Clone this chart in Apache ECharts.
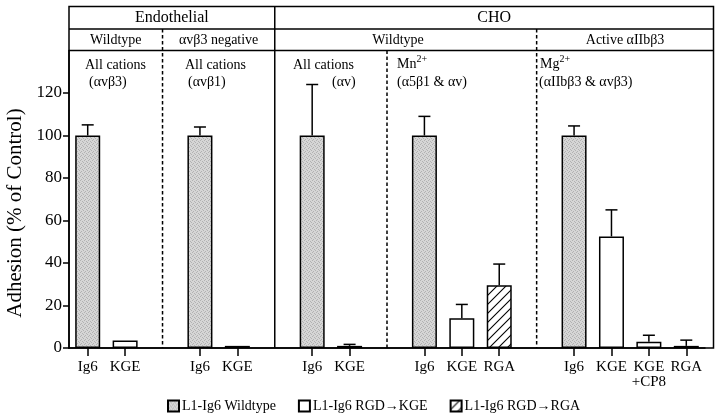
<!DOCTYPE html>
<html><head><meta charset="utf-8">
<script src="https://cdn.jsdelivr.net/npm/echarts@6/dist/echarts.min.js"></script>
<style>html,body{margin:0;padding:0;background:#fff}#c{width:720px;height:419px}</style>
</head><body><div id="c"></div>
<script>
// ---------- data ----------
const categories = ['Ig6','KGE','','Ig6','KGE','','Ig6','KGE','','Ig6','KGE','RGA','','Ig6','KGE','KGE\n+CP8','RGA'];
const wildtypeValues = [100,'-','-',100,'-','-',100,'-','-',100,'-','-','-',100,'-','-','-'];
const wildtypeErrors = [5,'-','-',4,'-','-',24,'-','-',9,'-','-','-',4.5,'-','-','-'];
const kgeValues = ['-',3.5,'-','-',1,'-','-',1,'-','-',14,'-','-','-',52.5,3,'-'];
const kgeErrors = ['-',0,'-','-',0,'-','-',0.7,'-','-',6.5,'-','-','-',12.5,3,'-'];
const rgaValues = ['-','-','-','-','-','-','-','-','-','-','-',29.5,'-','-','-','-',1];
const rgaErrors = ['-','-','-','-','-','-','-','-','-','-','-',10,'-','-','-','-',2.7];
const yTicks = [0,20,40,60,80,100,120];
const seriesNames = ['L1-Ig6 Wildtype','L1-Ig6 RGD\u2192KGE','L1-Ig6 RGD\u2192RGA'];
const cellTitles = ['Endothelial','CHO'];
const subTitles = ['Wildtype','\u03b1v\u03b23 negative','Wildtype','Active \u03b1IIb\u03b23'];
const noteLine1 = ['All cations','All cations','All cations','{m|Mn}{s|2+}','{m|Mg}{s|2+}'];
const noteLine2 = ['(\u03b1v\u03b23)','(\u03b1v\u03b21)','(\u03b1v)','(\u03b15\u03b21 & \u03b1v)','(\u03b1IIb\u03b23 & \u03b1v\u03b23)'];
const yAxisTitle = 'Adhesion (% of Control)';

// ---------- styling helpers ----------
const SERIF = '"Liberation Serif","Times New Roman","DejaVu Serif",serif';
function stipple(){
  const c=document.createElement('canvas'); c.width=4; c.height=4;
  const g=c.getContext('2d'); g.fillStyle='#d6d6d6'; g.fillRect(0,0,4,4);
  g.fillStyle='#b2b2b2'; [[0,0],[2,1],[1,3],[3,2]].forEach(p=>g.fillRect(p[0],p[1],1,1));
  return c;
}
function hatch(){
  const s=9; const c=document.createElement('canvas'); c.width=s; c.height=s;
  const g=c.getContext('2d'); g.fillStyle='#fff'; g.fillRect(0,0,s,s);
  g.strokeStyle='#000'; g.lineWidth=1.1; g.beginPath();
  g.moveTo(0,s); g.lineTo(s,0); g.moveTo(-2,2); g.lineTo(2,-2); g.moveTo(s-2,s+2); g.lineTo(s+2,s-2);
  g.stroke(); return c;
}
const grayFill={image:stipple(),repeat:'repeat'};
const hatchFill={image:hatch(),repeat:'repeat'};

function errData(vals, errs){
  const out=[];
  vals.forEach((v,i)=>{ if(v!=='-' && errs[i]!=='-' && errs[i]>0) out.push([i, v, v+errs[i]]); });
  return out;
}
const allErr = errData(wildtypeValues,wildtypeErrors).concat(errData(kgeValues,kgeErrors), errData(rgaValues,rgaErrors));

function renderErr(params, api){
  const x=api.value(0), lo=api.value(1), hi=api.value(2);
  const p0=api.coord([x,lo]), p1=api.coord([x,hi]);
  const hw=6;
  return {type:'group', children:[
    {type:'line', shape:{x1:p0[0],y1:p0[1],x2:p1[0],y2:p1[1]}, style:{stroke:'#000',lineWidth:1.5}},
    {type:'line', shape:{x1:p1[0]-hw,y1:p1[1],x2:p1[0]+hw,y2:p1[1]}, style:{stroke:'#000',lineWidth:1.5}}
  ]};
}

const GRID_L=69, GRID_R=705, GRID_T=50.5, GRID_B=348;
const chart = echarts.init(document.getElementById('c'), null, {renderer:'canvas'});
const barStyle = (fill)=>({color:fill, borderColor:'#000', borderWidth:1.5});
chart.setOption({
  animation:false,
  backgroundColor:'#fff',
  grid:{left:GRID_L, top:GRID_T, width:GRID_R-GRID_L, height:GRID_B-GRID_T, containLabel:false},
  legend:{
    data:seriesNames, left:162, top:394, icon:'rect', itemWidth:11, itemHeight:11, itemGap:22,
    textStyle:{fontFamily:SERIF, fontSize:14, color:'#000', padding:[0,0,0,-2]}
  },
  xAxis:{
    type:'category', data:categories,
    axisLine:{show:true, lineStyle:{color:'#000', width:1.5}},
    axisTick:{show:true, alignWithLabel:true, length:8, lineStyle:{color:'#000',width:1.5},
      interval:(i,v)=>v!==''},
    axisLabel:{interval:0, color:'#000', fontFamily:SERIF, fontSize:15, margin:12, lineHeight:15}
  },
  yAxis:{
    type:'value', min:0, max:140, interval:20,
    splitLine:{show:false},
    axisLine:{show:true, lineStyle:{color:'#000', width:1.5}},
    axisTick:{show:true, length:6, lineStyle:{color:'#000',width:1.5}, customValues:yTicks},
    axisLabel:{color:'#000', fontFamily:SERIF, fontSize:17, margin:7, customValues:yTicks}
  },
  series:[
    {name:seriesNames[0], type:'bar', data:wildtypeValues, barWidth:25, barGap:'-100%', itemStyle:barStyle(grayFill), z:2},
    {name:seriesNames[1], type:'bar', data:kgeValues, barWidth:25, barGap:'-100%', itemStyle:barStyle('#fff'), z:2},
    {name:seriesNames[2], type:'bar', data:rgaValues, barWidth:25, barGap:'-100%', itemStyle:barStyle(hatchFill), z:2},
    {type:'custom', renderItem:renderErr, data:allErr, encode:{x:0,y:[1,2]}, z:3, silent:true}
  ]
});

// ---------- frame, header cells and annotations (layout derived from the axis) ----------
const px = i => chart.convertToPixel({xAxisIndex:0}, i);
const xDiv1 = px(2), xDiv2 = px(5), xDiv3 = px(8), xDiv4 = px(12);
const L=GRID_L, R=713.5, T=6.5, H1=29, H2=GRID_T, B=GRID_B;
const ln = (x1,y1,x2,y2,dash)=>({type:'line', silent:true, z:5,
  shape:{x1,y1,x2,y2}, style:{stroke:'#000', lineWidth:1.5, lineDash:dash?[3.5,2.5]:null}});
const txt = (text,x,y,size,align,extra)=>({type:'text', silent:true, z:6, x, y,
  style:Object.assign({text, fill:'#000', font:size+'px '+SERIF, align:align||'center', verticalAlign:'middle'}, extra||{})});
const richNote = {m:{fontSize:14, fontFamily:SERIF, lineHeight:20}, s:{fontSize:10, fontFamily:SERIF, verticalAlign:'top'}};
const g=[
  {type:'rect', silent:true, z:5, shape:{x:L,y:T,width:R-L,height:B-T}, style:{fill:null, stroke:'#000', lineWidth:1.5}},
  ln(L,H1,R,H1), ln(L,H2,R,H2),
  ln(xDiv2,T,xDiv2,B),
  ln(xDiv1,H1,xDiv1,B,true), ln(xDiv4,H1,xDiv4,B,true), ln(xDiv3,H2,xDiv3,B,true),
  txt(cellTitles[0], (L+xDiv2)/2, 18, 16),
  txt(cellTitles[1], (xDiv2+R)/2, 18, 16),
  txt(subTitles[0], (L+xDiv1)/2, 40, 14),
  txt(subTitles[1], (xDiv1+xDiv2)/2, 40, 14),
  txt(subTitles[2], 398, 40, 14),
  txt(subTitles[3], (xDiv4+R)/2, 40, 14),
  txt(noteLine1[0], 85, 65, 14, 'left'), txt(noteLine2[0], 89, 82, 14, 'left'),
  txt(noteLine1[1], 185, 65, 14, 'left'), txt(noteLine2[1], 188, 82, 14, 'left'),
  txt(noteLine1[2], 293, 65, 14, 'left'), txt(noteLine2[2], 332, 82, 14, 'left'),
  txt(noteLine1[3], 397, 64, 14, 'left', {rich:richNote}), txt(noteLine2[3], 397, 82, 14, 'left'),
  txt(noteLine1[4], 540, 64, 14, 'left', {rich:richNote}), txt(noteLine2[4], 539, 82, 14, 'left'),
  {type:'text', silent:true, z:6, x:15, y:213, rotation:Math.PI/2,
   style:{text:yAxisTitle, fill:'#000', font:'21px '+SERIF, align:'center', verticalAlign:'middle'}}
];
chart.setOption({graphic:g});
</script></body></html>
